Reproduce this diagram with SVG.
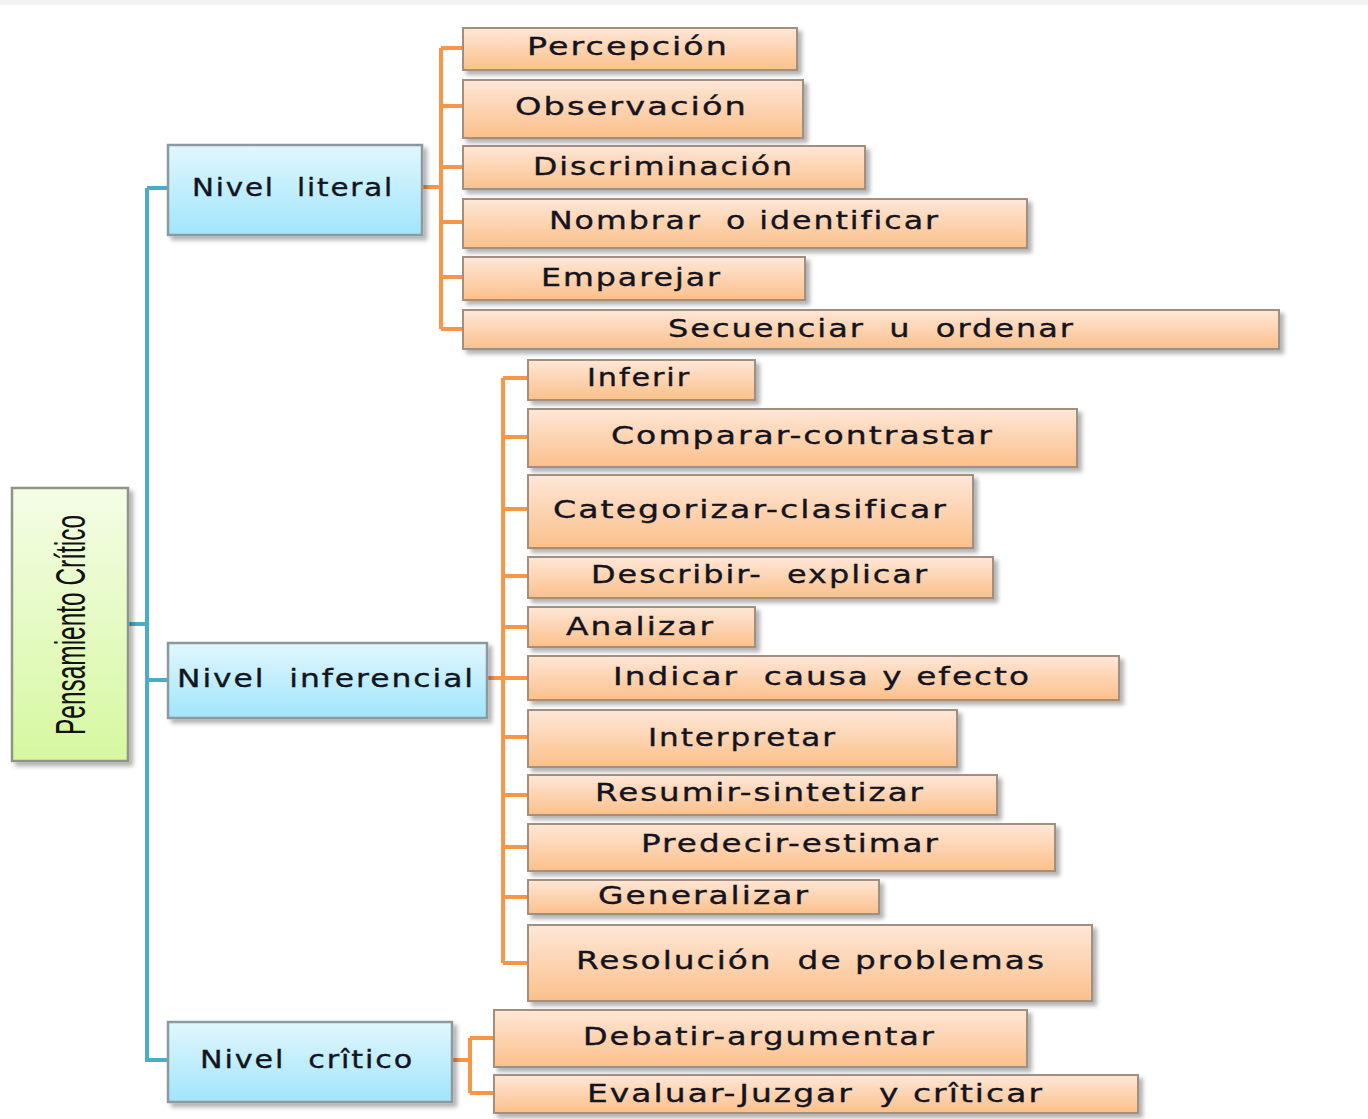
<svg xmlns="http://www.w3.org/2000/svg" width="1368" height="1119" viewBox="0 0 1368 1119">
<style>
.t{font-family:"DejaVu Sans",Verdana,sans-serif;font-size:24px;fill:#141420;stroke:#141420;stroke-width:0.35px;letter-spacing:1.5px;white-space:pre}
.o{fill:url(#gO);stroke:#a38f80;stroke-width:2}
.b{fill:url(#gB);stroke:#8c999e;stroke-width:2.5}
.g{fill:url(#gG);stroke:#8f9488;stroke-width:2.5}
.co{fill:none;stroke:#f79646;stroke-width:4}
.cb{fill:none;stroke:#4bacc6;stroke-width:4}
</style>
<defs>
<linearGradient id="gO" x1="0" y1="0" x2="0" y2="1"><stop offset="0" stop-color="#fee7d8"/><stop offset="1" stop-color="#fbc08a"/></linearGradient>
<linearGradient id="gB" x1="0" y1="0" x2="0" y2="1"><stop offset="0" stop-color="#e1f7fe"/><stop offset="1" stop-color="#a1e5fb"/></linearGradient>
<linearGradient id="gG" x1="0" y1="0" x2="0" y2="1"><stop offset="0" stop-color="#f4fde6"/><stop offset="1" stop-color="#d6f8a0"/></linearGradient>
<filter id="sh" x="-10%" y="-20%" width="130%" height="160%"><feDropShadow dx="4" dy="4" stdDeviation="2" flood-color="#000" flood-opacity="0.3"/></filter>
</defs>
<rect x="0" y="0" width="1368" height="5" fill="#f2f2f2"/>
<g id="connectors">
<path class="cb" d="M128 624H147M147 188V1062M147 188H168M147 680H168M147 1060H168"/>
<path class="co" d="M422 187H441M441 48V329M441 48H463M441 106H463M441 167H463M441 222H463M441 277H463M441 329H463"/>
<path class="co" d="M487 678H503M503 378V963M503 378H528M503 437H528M503 509H528M503 576H528M503 627H528M503 678H528M503 737H528M503 795H528M503 847H528M503 897H528M503 963H528"/>
<path class="co" d="M452 1060H470M470 1038V1093M470 1038H494M470 1093H494"/>
</g>
<g id="root"><rect class="g" x="12" y="488" width="116" height="273" filter="url(#sh)"/><text transform="translate(85,625) rotate(-90)" text-anchor="middle" style="font-family:'Liberation Sans',Arial,sans-serif;font-size:42px;fill:#111" textLength="220" lengthAdjust="spacingAndGlyphs">Pensamiento  Crítico</text></g>
<g id="nivel-literal"><rect class="b" x="168" y="145" width="254" height="90" filter="url(#sh)"/><text class="t" x="192" y="196" textLength="202" lengthAdjust="spacingAndGlyphs">Nivel  literal</text></g>
<g id="nivel-inferencial"><rect class="b" x="168" y="643" width="319" height="75" filter="url(#sh)"/><text class="t" x="177" y="687" textLength="298" lengthAdjust="spacingAndGlyphs">Nivel  inferencial</text></g>
<g id="nivel-critico"><rect class="b" x="168" y="1022" width="284" height="80" filter="url(#sh)"/><text class="t" x="200" y="1068" textLength="214" lengthAdjust="spacingAndGlyphs">Nivel  crîtico</text></g>
<g id="percepcion"><rect class="o" x="463" y="28" width="334" height="42" filter="url(#sh)"/><text class="t" x="527" y="55" textLength="202" lengthAdjust="spacingAndGlyphs">Percepción</text></g>
<g id="observacion"><rect class="o" x="463" y="80" width="340" height="58" filter="url(#sh)"/><text class="t" x="515" y="115" textLength="233" lengthAdjust="spacingAndGlyphs">Observación</text></g>
<g id="discriminacion"><rect class="o" x="463" y="146" width="402" height="43" filter="url(#sh)"/><text class="t" x="533" y="175" textLength="261" lengthAdjust="spacingAndGlyphs">Discriminación</text></g>
<g id="nombrar"><rect class="o" x="463" y="199" width="564" height="49" filter="url(#sh)"/><text class="t" x="549" y="229" textLength="391" lengthAdjust="spacingAndGlyphs">Nombrar  o identificar</text></g>
<g id="emparejar"><rect class="o" x="463" y="257" width="342" height="43" filter="url(#sh)"/><text class="t" x="541" y="286" textLength="181" lengthAdjust="spacingAndGlyphs">Emparejar</text></g>
<g id="secuenciar"><rect class="o" x="463" y="310" width="816" height="39" filter="url(#sh)"/><text class="t" x="668" y="337" textLength="407" lengthAdjust="spacingAndGlyphs">Secuenciar  u  ordenar</text></g>
<g id="inferir"><rect class="o" x="528" y="360" width="227" height="40" filter="url(#sh)"/><text class="t" x="587" y="386" textLength="104" lengthAdjust="spacingAndGlyphs">Inferir</text></g>
<g id="comparar"><rect class="o" x="528" y="409" width="549" height="58" filter="url(#sh)"/><text class="t" x="611" y="444" textLength="383" lengthAdjust="spacingAndGlyphs">Comparar-contrastar</text></g>
<g id="categorizar"><rect class="o" x="528" y="475" width="445" height="73" filter="url(#sh)"/><text class="t" x="553" y="518" textLength="395" lengthAdjust="spacingAndGlyphs">Categorizar-clasificar</text></g>
<g id="describir"><rect class="o" x="528" y="557" width="465" height="41" filter="url(#sh)"/><text class="t" x="591" y="583" textLength="338" lengthAdjust="spacingAndGlyphs">Describir-  explicar</text></g>
<g id="analizar"><rect class="o" x="528" y="607" width="227" height="40" filter="url(#sh)"/><text class="t" x="566" y="635" textLength="149" lengthAdjust="spacingAndGlyphs">Analizar</text></g>
<g id="indicar"><rect class="o" x="528" y="656" width="591" height="44" filter="url(#sh)"/><text class="t" x="613" y="685" textLength="418" lengthAdjust="spacingAndGlyphs">Indicar  causa y efecto</text></g>
<g id="interpretar"><rect class="o" x="528" y="710" width="429" height="57" filter="url(#sh)"/><text class="t" x="648" y="746" textLength="189" lengthAdjust="spacingAndGlyphs">Interpretar</text></g>
<g id="resumir"><rect class="o" x="528" y="775" width="469" height="40" filter="url(#sh)"/><text class="t" x="595" y="801" textLength="330" lengthAdjust="spacingAndGlyphs">Resumir-sintetizar</text></g>
<g id="predecir"><rect class="o" x="528" y="824" width="527" height="47" filter="url(#sh)"/><text class="t" x="641" y="852" textLength="299" lengthAdjust="spacingAndGlyphs">Predecir-estimar</text></g>
<g id="generalizar"><rect class="o" x="528" y="880" width="351" height="34" filter="url(#sh)"/><text class="t" x="598" y="904" textLength="212" lengthAdjust="spacingAndGlyphs">Generalizar</text></g>
<g id="resolucion"><rect class="o" x="528" y="925" width="564" height="76" filter="url(#sh)"/><text class="t" x="576" y="969" textLength="470" lengthAdjust="spacingAndGlyphs">Resolución  de problemas</text></g>
<g id="debatir"><rect class="o" x="494" y="1010" width="533" height="57" filter="url(#sh)"/><text class="t" x="583" y="1045" textLength="353" lengthAdjust="spacingAndGlyphs">Debatir-argumentar</text></g>
<g id="evaluar"><rect class="o" x="494" y="1075" width="644" height="38" filter="url(#sh)"/><text class="t" x="587" y="1102" textLength="457" lengthAdjust="spacingAndGlyphs">Evaluar-Juzgar  y crîticar</text></g>
</svg>
